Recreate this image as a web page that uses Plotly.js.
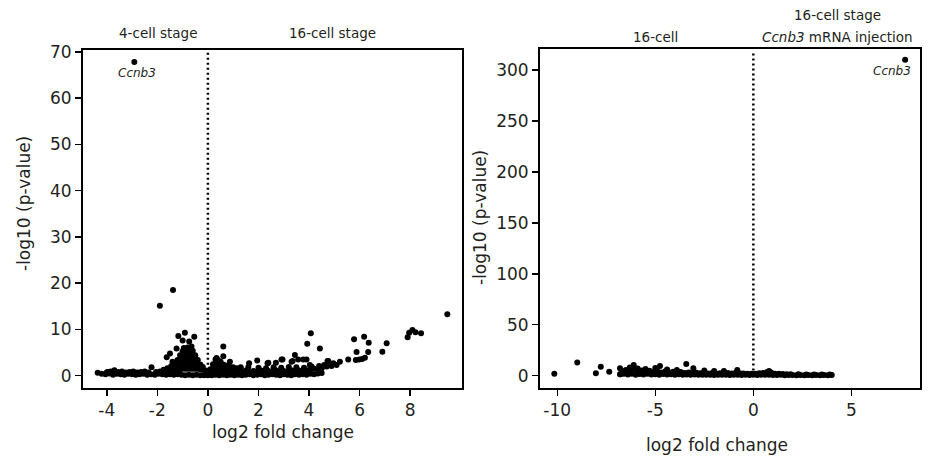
<!DOCTYPE html>
<html>
<head>
<meta charset="utf-8">
<script src="https://cdn.plot.ly/plotly-3.0.1.min.js"></script>
<style>html,body{margin:0;padding:0;background:#fff;}#chart{width:928px;height:462px;}</style>
</head>
<body>
<div id="chart"></div>
<script>
// ---- Data (log2 fold change, -log10 p-value) ----
// Left panel: 4-cell stage vs 16-cell stage
const leftBaseLow = [[-4.2,0.4],[-4.05,0.3],[-3.9,0.5],[-3.75,0.2],[-3.6,0.4],[-3.45,0.3],[-3.3,0.2],[-3.15,0.4],[-3.0,0.3],[-2.85,0.2],[-2.7,0.3],[-2.55,0.4],[-2.4,0.2],[-2.25,0.3],[-2.1,0.2],[-1.95,0.4],[-1.8,0.3],[-1.65,0.2],[-1.5,0.3],[-1.35,0.2],[-1.2,0.3],[-1.05,0.2],[-0.9,0.1],[-0.75,0.2],[-0.6,0.1],[-0.45,0.2],[-0.3,0.1],[-0.15,0.1],[0.0,0.1],[0.15,0.1],[0.3,0.2],[0.45,0.1],[0.6,0.2],[0.75,0.1],[0.9,0.2],[1.05,0.1],[1.2,0.2],[1.35,0.1],[1.5,0.2],[1.65,0.3],[1.8,0.1],[1.95,0.2],[2.1,0.3],[2.25,0.1],[2.4,0.2],[2.55,0.3],[2.7,0.2],[2.85,0.1],[3.0,0.3],[3.15,0.2],[3.3,0.1],[3.45,0.3],[3.6,0.2],[3.75,0.3],[3.9,0.2],[4.05,0.4],[4.2,0.3],[4.35,0.5],[4.5,0.6]];
const leftBaseHigh = [[-4.0,0.7],[-3.85,0.9],[-3.55,0.8],[-3.4,0.9],[-3.25,0.7],[-3.1,0.8],[-2.95,0.9],[-2.8,0.7],[-2.65,0.8],[-2.5,0.9],[-2.35,0.7],[-2.05,0.8],[-1.9,0.9],[-1.75,1.0],[-1.6,1.1],[-1.45,1.0],[-1.3,0.9],[-1.15,0.8],[-0.05,0.7],[0.08,0.8],[1.2,1.0],[1.35,0.9],[1.5,1.1],[1.65,0.8],[1.8,1.0],[1.95,0.9],[2.1,1.1],[2.25,0.8],[2.4,1.0],[2.55,0.9],[2.7,1.1],[2.85,0.8],[3.0,1.0],[3.15,0.9],[3.3,1.2],[3.45,1.0],[3.6,1.1],[3.75,0.9],[3.9,1.2],[4.05,1.3],[4.2,1.5],[4.35,1.4],[4.5,1.7],[1.3,1.8],[1.6,1.9],[2.0,1.7],[2.3,1.6],[2.6,1.8],[2.9,1.7],[3.2,1.9],[3.5,1.8],[3.8,1.7],[4.1,2.0],[4.4,2.1],[4.6,2.3],[4.7,2.0]];
const leftMoundDown = [[-1.3,1.6],[-1.3,2.6],[-1.2,1.5],[-1.2,2.5],[-1.2,3.4],[-1.1,1.5],[-1.1,2.5],[-1.1,3.5],[-1.1,4.4],[-1.0,1.5],[-1.0,2.5],[-1.0,3.5],[-1.0,4.5],[-1.0,5.3],[-0.9,1.5],[-0.9,2.5],[-0.9,3.5],[-0.9,4.5],[-0.9,5.5],[-0.8,1.5],[-0.8,2.5],[-0.8,3.5],[-0.8,4.5],[-0.8,5.5],[-0.8,6.1],[-0.7,1.5],[-0.7,2.5],[-0.7,3.5],[-0.7,4.5],[-0.7,5.5],[-0.7,6.0],[-0.6,1.5],[-0.6,2.5],[-0.6,3.5],[-0.6,4.5],[-0.6,5.4],[-0.5,1.5],[-0.5,2.5],[-0.5,3.5],[-0.5,4.4],[-0.4,1.5],[-0.4,2.5],[-0.4,3.4],[-0.3,1.4],[-0.3,2.4],[-0.2,1.3],[-0.2,1.9],[-0.1,1.1],[-1.45,2.1],[-1.6,1.6],[-1.75,1.3],[-0.95,6.0],[-0.65,6.3]];
const leftMoundUp = [[0.1,0.6],[0.1,1.4],[0.2,0.5],[0.2,1.5],[0.2,2.5],[0.3,0.5],[0.3,1.5],[0.3,2.5],[0.3,3.5],[0.4,0.5],[0.4,1.5],[0.4,2.5],[0.4,3.4],[0.5,0.5],[0.5,1.5],[0.5,2.5],[0.5,3.0],[0.6,0.5],[0.6,1.5],[0.6,2.4],[0.7,0.5],[0.7,1.4],[0.7,2.2],[0.85,0.5],[0.85,1.3],[0.85,2.0],[1.0,0.5],[1.0,1.4],[1.0,1.8],[1.15,1.6],[1.1,0.9]];
const leftOutliers = [[-2.91,67.8],[-1.38,18.5],[-1.90,15.1],[-0.91,9.3],[-1.17,8.6],[-0.54,8.4],[-1.0,7.6],[-0.74,7.4],[-1.24,5.9],[-1.5,4.8],[-1.63,4.0],[-1.4,3.0],[-2.23,1.8],[-4.36,0.65],[-3.97,0.8],[-3.7,1.2],[0.61,6.3],[0.61,4.2],[0.87,3.0],[0.34,3.8],[1.63,2.7],[1.95,3.3],[2.36,2.7],[2.69,2.8],[2.91,3.5],[2.39,2.8],[2.95,3.5],[3.31,3.0],[3.35,3.2],[3.44,4.5],[3.57,3.5],[3.77,3.5],[3.90,3.5],[3.93,6.9],[4.07,9.2],[4.43,5.9],[4.03,2.3],[4.5,1.6],[4.73,3.2],[4.76,3.2],[4.89,2.1],[4.96,2.7],[5.09,2.3],[5.22,3.0],[5.55,3.5],[5.85,3.4],[5.98,3.5],[6.1,3.6],[6.21,3.9],[5.88,5.1],[6.34,5.1],[5.78,7.9],[6.18,8.4],[6.36,7.1],[6.90,5.2],[7.07,7.0],[7.90,8.3],[7.96,9.3],[8.09,9.9],[8.21,9.4],[8.43,9.2],[9.47,13.3]];

// Right panel: 16-cell vs 16-cell + Ccnb3 mRNA injection
const rightBandLow = [[-6.8,1.5],[-6.6,2.0],[-6.4,1.2],[-6.2,1.8],[-6.0,1.0],[-5.8,1.6],[-5.6,1.2],[-5.4,1.9],[-5.2,1.1],[-5.0,1.5],[-4.8,1.0],[-4.6,1.7],[-4.4,1.2],[-4.2,1.4],[-4.0,0.9],[-3.8,1.3],[-3.6,1.0],[-3.4,1.2],[-3.2,0.8],[-3.0,1.1],[-2.8,0.9],[-2.6,1.0],[-2.4,0.8],[-2.2,1.0],[-2.0,0.7],[-1.8,0.9],[-1.6,0.8],[-1.4,1.0],[-1.2,0.7],[-1.0,0.9],[-0.8,0.8],[-0.6,0.7],[-0.4,0.9],[-0.2,0.6],[0.0,0.8],[0.2,0.7],[0.4,0.9],[0.6,0.8],[0.8,1.0],[1.0,0.7],[1.2,0.6],[1.4,0.8],[1.6,0.5],[1.8,0.7],[2.0,0.6],[2.2,0.5],[2.4,0.7],[2.6,0.5],[2.8,0.6],[3.0,0.5],[3.2,0.7],[3.4,0.5],[3.6,0.6],[3.8,0.5],[4.0,0.7]];
const rightBandHigh = [[-6.7,4.5],[-6.5,5.5],[-6.3,3.8],[-6.1,6.5],[-5.9,4.2],[-5.7,5.0],[-5.5,3.5],[-5.3,4.8],[-5.1,3.6],[-4.9,4.5],[-4.7,3.2],[-4.5,4.0],[-4.3,3.0],[-4.1,3.8],[-3.9,2.8],[-3.7,3.5],[-3.5,2.6],[-3.3,3.2],[-3.1,2.5],[-2.9,2.9],[-2.7,2.3],[-2.5,2.6],[-2.3,2.2],[-2.1,2.5],[-1.9,2.1],[-1.7,2.4],[-1.5,2.0],[-1.3,2.6],[-1.1,2.2],[-0.9,2.9],[-0.7,2.4],[-0.5,2.2],[-0.3,2.0],[-0.1,1.8],[0.1,2.0],[0.3,2.3],[0.5,2.6],[0.7,3.5],[0.8,4.5],[0.9,3.2],[1.1,2.0],[1.3,1.8],[1.5,1.6],[1.7,1.5],[1.9,1.4],[2.3,1.3],[2.7,1.2],[3.1,1.2],[3.5,1.1],[3.9,1.1]];
const rightOutliers = [[7.74,310.1],[-10.15,2.0],[-8.98,13.0],[-8.03,2.4],[-7.78,8.8],[-7.35,3.9],[-6.8,7.2],[-6.77,1.4],[-6.1,10.5],[-4.76,9.5],[-3.42,11.5],[-3.06,7.2],[-0.82,5.6],[-6.3,8.0],[-5.9,7.0],[-5.5,6.5],[-5.0,7.5],[-4.4,6.0],[-3.9,5.5],[-2.5,5.0],[-2.0,4.5],[-1.5,4.5]];

const leftTickVals = [-4,-2,0,2,4,6,8];
const leftTickText = ["-4","-2","0","2","4","6","8"];
const leftYTicks = [0,10,20,30,40,50,60,70];
const rightTickVals = [-10,-5,0,5];
const rightTickText = ["-10","-5","0","5"];
const rightYTicks = [0,50,100,150,200,250,300];

const xTitle = "log2 fold change";
const yTitle = "-log10 (p-value)";
const labelLeftTop = ["4-cell stage", "16-cell stage"];
const labelRightTop = ["16-cell", "16-cell stage", "<i>Ccnb3</i> mRNA injection"];
const geneLabel = "<i>Ccnb3</i>";

// ---- Build ----
const leftPts = [].concat(leftBaseLow, leftBaseHigh, leftMoundDown, leftMoundUp, leftOutliers);
const rightPts = [].concat(rightBandLow, rightBandHigh, rightOutliers);
const FONT = "'DejaVu Sans', sans-serif";
const INK = "#231f20";
const marker = {color: "#000", size: 6, line: {width: 0}};

const traces = [
  {type: "scatter", mode: "markers", x: leftPts.map(p => p[0]), y: leftPts.map(p => p[1]), xaxis: "x", yaxis: "y", marker: marker, hoverinfo: "x+y"},
  {type: "scatter", mode: "markers", x: rightPts.map(p => p[0]), y: rightPts.map(p => p[1]), xaxis: "x2", yaxis: "y2", marker: marker, hoverinfo: "x+y"}
];

const W = 928, H = 462;
const axCommon = {
  showgrid: false, zeroline: false, showline: true, linecolor: "#000", linewidth: 2, mirror: true,
  ticks: "outside", ticklen: 6, tickwidth: 1.5, tickcolor: "#000",
  tickfont: {family: FONT, size: 17, color: INK},
  fixedrange: true
};
const titleFont = {family: FONT, size: 17, color: INK};
const topFont = {family: FONT, size: 13.5, color: INK};
const pap = (px, py) => ({xref: "paper", yref: "paper", x: px / W, y: 1 - py / H, showarrow: false, xanchor: "center", yanchor: "middle"});

const layout = {
  width: W, height: H,
  margin: {l: 0, r: 0, t: 0, b: 0},
  paper_bgcolor: "#fff", plot_bgcolor: "#fff",
  showlegend: false,
  font: {family: FONT, color: INK},
  xaxis: Object.assign({}, axCommon, {
    domain: [83/W, 462/W], range: [-4.94, 10.05], tickmode: "array", tickvals: leftTickVals, ticktext: leftTickText, anchor: "y"
  }),
  yaxis: Object.assign({}, axCommon, {
    domain: [1 - 388/H, 1 - 50/H], range: [-2.66, 70.4], tickmode: "array", tickvals: leftYTicks, anchor: "x"
  }),
  xaxis2: Object.assign({}, axCommon, {
    domain: [540/W, 920/W], range: [-10.88, 8.5], tickmode: "array", tickvals: rightTickVals, ticktext: rightTickText, anchor: "y2"
  }),
  yaxis2: Object.assign({}, axCommon, {
    domain: [1 - 388/H, 1 - 49/H], range: [-12.1, 320.6], tickmode: "array", tickvals: rightYTicks, anchor: "x2"
  }),
  shapes: [
    {type: "line", xref: "x", yref: "y", x0: 0, x1: 0, y0: 1.3, y1: 69.8, line: {color: "#000", width: 2.5, dash: "2px,3px"}},
    {type: "line", xref: "x2", yref: "y2", x0: 0, x1: 0, y0: 5, y1: 317, line: {color: "#000", width: 2.5, dash: "2px,3px"}}
  ],
  annotations: [
    Object.assign(pap(283, 432), {text: xTitle, font: titleFont}),
    Object.assign(pap(717, 445), {text: xTitle, font: titleFont}),
    Object.assign(pap(24, 204), {text: yTitle, font: titleFont, textangle: -90}),
    Object.assign(pap(480, 218), {text: yTitle, font: titleFont, textangle: -90}),
    Object.assign(pap(158, 33), {text: labelLeftTop[0], font: topFont}),
    Object.assign(pap(332, 33), {text: labelLeftTop[1], font: topFont}),
    Object.assign(pap(655, 37), {text: labelRightTop[0], font: topFont}),
    Object.assign(pap(837, 15), {text: labelRightTop[1], font: topFont}),
    Object.assign(pap(837, 37), {text: labelRightTop[2], font: topFont}),
    {xref: "x", yref: "y", x: -2.91, y: 67.8, text: geneLabel, showarrow: false, xanchor: "center", yanchor: "top", yshift: -2, xshift: 3, font: {family: FONT, size: 12, color: INK}},
    {xref: "x2", yref: "y2", x: 7.74, y: 310.1, text: geneLabel, showarrow: false, xanchor: "right", yanchor: "top", yshift: -2, xshift: 8, font: {family: FONT, size: 12, color: INK}}
  ]
};

Plotly.newPlot("chart", traces, layout, {staticPlot: true, displayModeBar: false});
</script>
</body>
</html>
